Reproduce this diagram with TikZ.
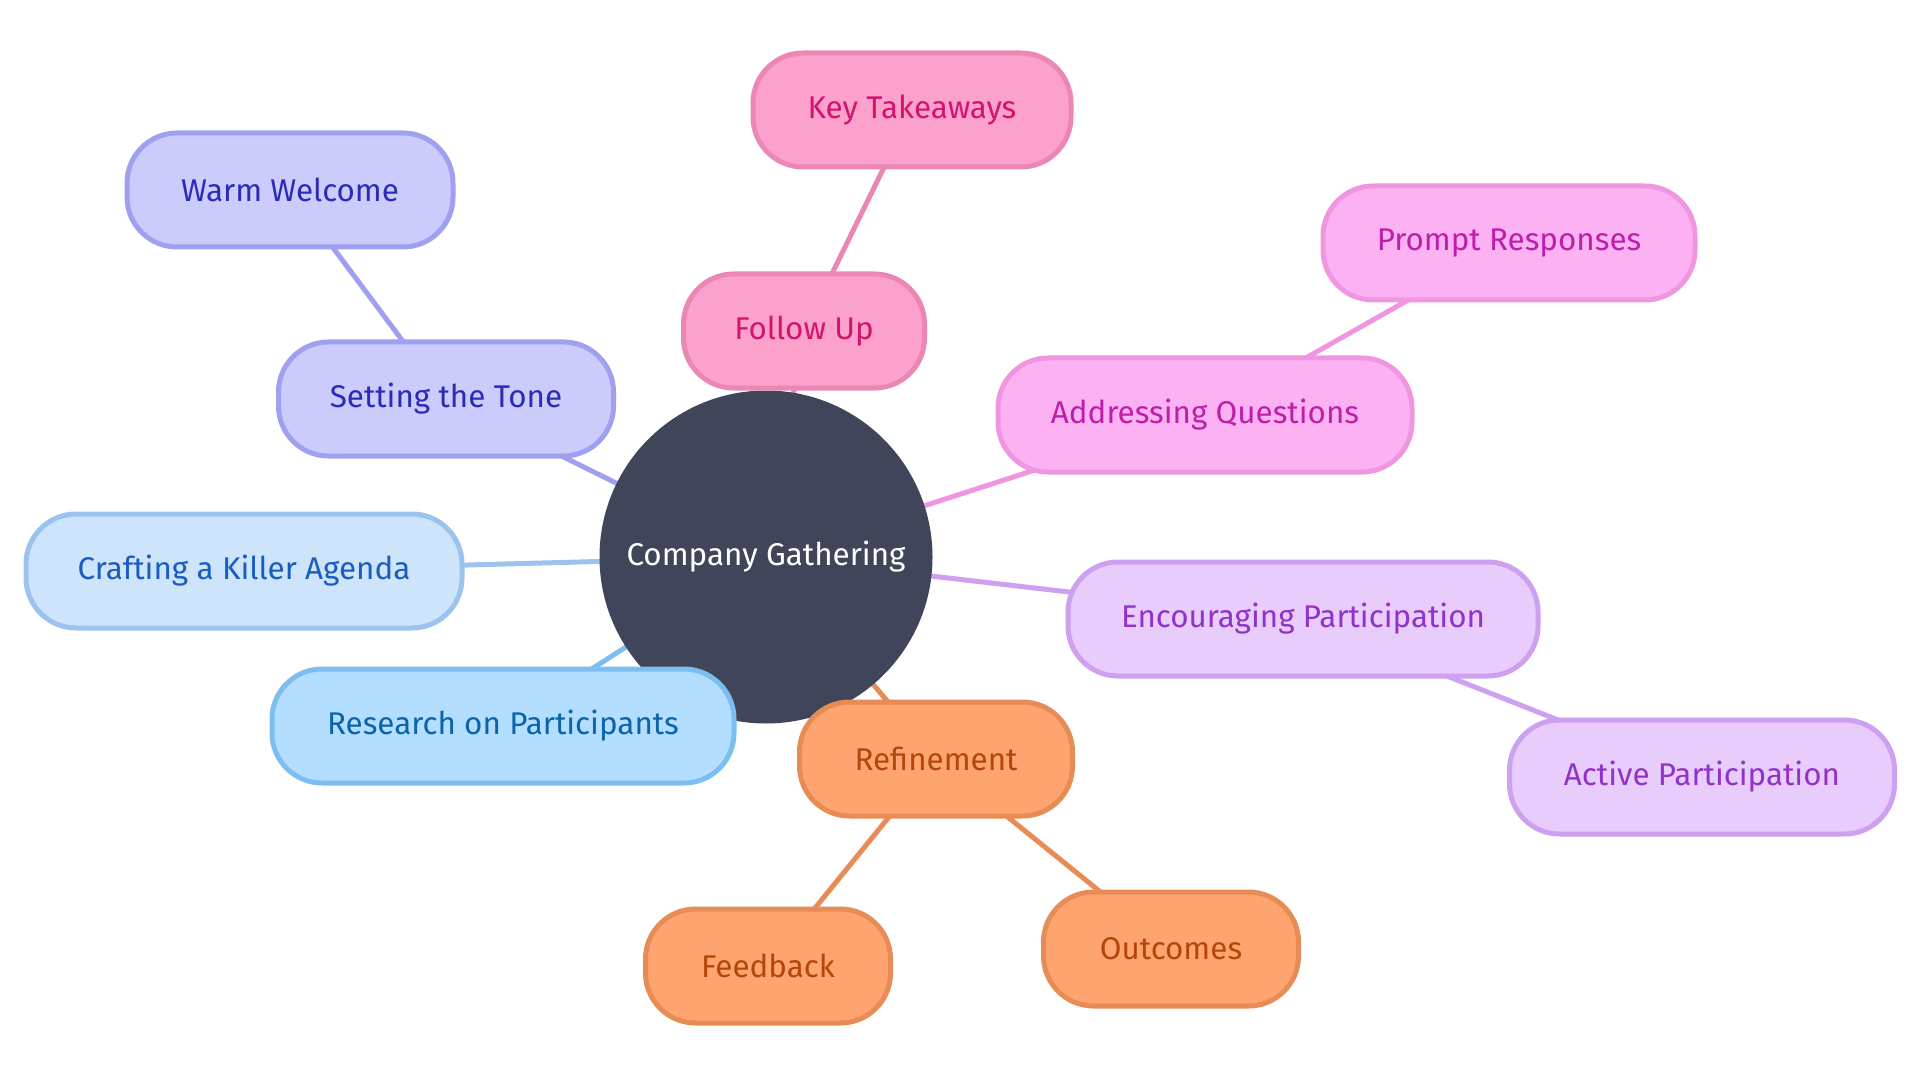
\documentclass[tikz,border=0pt]{standalone}
\usepackage{fontspec}
\setmainfont{Fira Sans}
\usetikzlibrary{backgrounds}
\definecolor{hubfill}{RGB}{65,69,89}
\definecolor{vioF}{RGB}{203,203,252}\definecolor{vioD}{RGB}{160,160,240}\definecolor{vioT}{RGB}{43,43,181}
\definecolor{skyF}{RGB}{205,228,250}\definecolor{skyD}{RGB}{155,195,238}\definecolor{skyT}{RGB}{26,92,192}
\definecolor{bluF}{RGB}{180,222,255}\definecolor{bluD}{RGB}{125,190,240}\definecolor{bluT}{RGB}{10,100,170}
\definecolor{pnkF}{RGB}{252,160,204}\definecolor{pnkD}{RGB}{235,135,180}\definecolor{pnkT}{RGB}{210,20,110}
\definecolor{magF}{RGB}{252,178,242}\definecolor{magD}{RGB}{240,150,225}\definecolor{magT}{RGB}{190,30,170}
\definecolor{purF}{RGB}{231,204,252}\definecolor{purD}{RGB}{205,160,240}\definecolor{purT}{RGB}{145,50,200}
\definecolor{orgF}{RGB}{254,164,112}\definecolor{orgD}{RGB}{232,140,85}\definecolor{orgT}{RGB}{180,70,10}
\begin{document}
\begin{tikzpicture}[x=0.5pt,y=-0.5pt,
  mm/.style={rounded corners=25pt, line width=2.5pt, minimum height=57pt, inner sep=0pt,
    font=\fontsize{15.7}{18}\selectfont, align=center},
  vio/.style={mm, draw=vioD, fill=vioF, text=vioT},
  sky/.style={mm, draw=skyD, fill=skyF, text=skyT},
  blu/.style={mm, draw=bluD, fill=bluF, text=bluT},
  pnk/.style={mm, draw=pnkD, fill=pnkF, text=pnkT},
  mag/.style={mm, draw=magD, fill=magF, text=magT},
  pur/.style={mm, draw=purD, fill=purF, text=purT},
  org/.style={mm, draw=orgD, fill=orgF, text=orgT},
  lnk/.style={line width=2.5pt}]
\useasboundingbox (0,0) rectangle (1920,1080);
\node[circle, fill=hubfill, text=white, minimum size=166.5pt, inner sep=0pt,
  font=\fontsize{15.7}{18}\selectfont] (hub) at (766,557) {Company Gathering};
\node[pnk, minimum width=159pt] (kt) at (912,110) {Key Takeaways};
\node[pnk, minimum width=120.5pt] (fu) at (804,331) {Follow Up};
\node[vio, minimum width=163pt] (ww) at (290,190) {Warm Welcome};
\node[vio, minimum width=167.5pt] (st) at (446,399) {Setting the Tone};
\node[sky, minimum width=218pt] (ca) at (244,571) {Crafting a Killer Agenda};
\node[blu, minimum width=231pt] (rp) at (503,726) {Research on Participants};
\node[mag, minimum width=207pt] (aq) at (1205,415) {Addressing Questions};
\node[mag, minimum width=186pt] (pr) at (1509,243) {Prompt Responses};
\node[pur, minimum width=235pt] (ep) at (1303,619) {Encouraging Participation};
\node[pur, minimum width=192.5pt] (ap) at (1702,777) {Active Participation};
\node[org, minimum width=136.5pt] (rf) at (936,759) {Refinement};
\node[org, minimum width=122.5pt] (fb) at (768,966) {Feedback};
\node[org, minimum width=127.5pt] (oc) at (1171,949) {Outcomes};
\begin{scope}[on background layer]
\draw[lnk, draw=pnkD] (hub.center) -- (fu.center);
\draw[lnk, draw=pnkD] (fu.center) -- (kt.center);
\draw[lnk, draw=vioD] (hub.center) -- (st.center);
\draw[lnk, draw=vioD] (st.center) -- (ww.center);
\draw[lnk, draw=skyD] (hub.center) -- (ca.center);
\draw[lnk, draw=bluD] (hub.center) -- (rp.center);
\draw[lnk, draw=magD] (hub.center) -- (aq.center);
\draw[lnk, draw=magD] (aq.center) -- (pr.center);
\draw[lnk, draw=purD] (hub.center) -- (ep.center);
\draw[lnk, draw=purD] (ep.center) -- (ap.center);
\draw[lnk, draw=orgD] (hub.center) -- (rf.center);
\draw[lnk, draw=orgD] (rf.center) -- (fb.center);
\draw[lnk, draw=orgD] (rf.center) -- (oc.center);
\end{scope}
\end{tikzpicture}
\end{document}
